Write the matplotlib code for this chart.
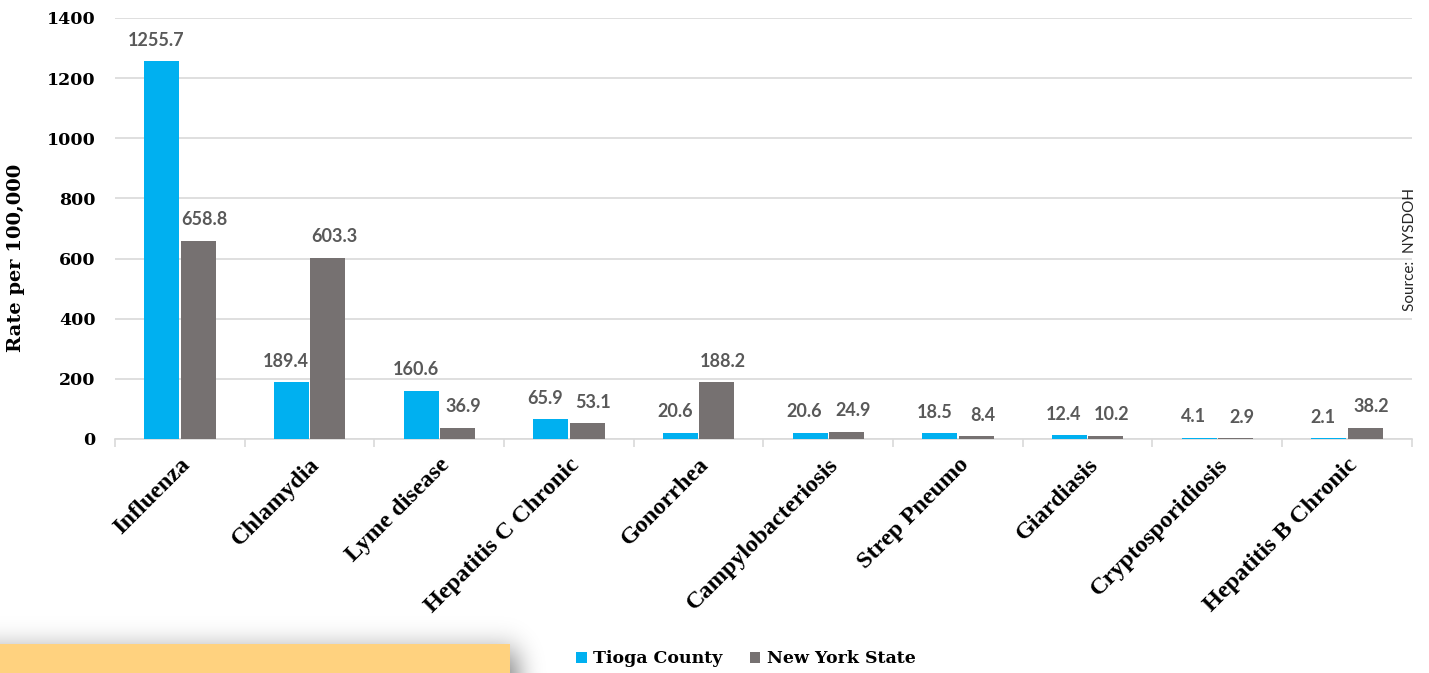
import math
import numpy as np
import matplotlib.pyplot as plt
from matplotlib.patches import Rectangle

diseases = ["Influenza", "Chlamydia", "Lyme disease", "Hepatitis C Chronic", "Gonorrhea",
            "Campylobacteriosis", "Strep Pneumo", "Giardiasis", "Cryptosporidiosis",
            "Hepatitis B Chronic"]
tioga = [1255.7, 189.4, 160.6, 65.9, 20.6, 20.6, 18.5, 12.4, 4.1, 2.1]
nys = [658.8, 603.3, 36.9, 53.1, 188.2, 24.9, 8.4, 10.2, 2.9, 38.2]

blue = "#00B0F0"
grey = "#767171"
label_col = "#595959"
serif = "DejaVu Serif"

fig = plt.figure(figsize=(14.29, 6.73), dpi=100)
ax = fig.add_axes([0.0805, 0.3477, 0.9075, 0.6256])

x = np.arange(len(diseases))
w = 0.27
b1 = ax.bar(x - 0.14, tioga, w, color=blue, zorder=3, label="Tioga County")
b2 = ax.bar(x + 0.14, nys, w, color=grey, zorder=3, label="New York State")

# labels pushed slightly outward, like excel does
for bars, vals, dx in [(b1, tioga, -4), (b2, nys, 4.5)]:
    for r, v in zip(bars, vals):
        ax.annotate(f"{v:.1f}", (r.get_x() + r.get_width() / 2, v), xytext=(dx, 9),
                    textcoords="offset points", ha="center", va="bottom",
                    fontsize=13, fontweight="bold", color=label_col, family="Lato")

ax.set_xlim(-0.5, len(diseases) - 0.5)
ax.set_ylim(0, 1400)
ax.set_yticks(range(0, 1401, 200))
ax.yaxis.grid(True, color="#D9D9D9", linewidth=1.2, zorder=0)
ax.tick_params(axis="y", length=0, pad=14)
for lab in ax.get_yticklabels():
    lab.set_fontfamily(serif)
    lab.set_fontweight("bold")
    lab.set_fontsize(12.5)

# category names: Liberation Serif keeps the dots on the i's readable when rotated
ax.set_xticks(x)
ax.set_xticklabels(diseases, rotation=45, ha="right", rotation_mode="anchor",
                   fontfamily="Liberation Serif", fontweight="bold", fontsize=17.5)
ax.tick_params(axis="x", which="major", length=0, pad=11)
ax.set_xticks(np.arange(-0.5, len(diseases)), minor=True)
ax.tick_params(axis="x", which="minor", length=6, color="#D9D9D9", width=1.2)

for s in ["top", "right", "left"]:
    ax.spines[s].set_visible(False)
ax.spines["bottom"].set_color("#D9D9D9")
ax.spines["bottom"].set_linewidth(1.2)

ax.set_ylabel("Rate per 100,000", fontfamily=serif, fontweight="bold", fontsize=14)
ax.yaxis.set_label_coords(-0.0694, 0.43)

fig.text(0.987, 0.63, "Source:  NYSDOH", rotation=90, ha="center", va="center",
         fontsize=11, family="Lato", color="#262626")

fig.legend(handles=[b1, b2], loc="center", bbox_to_anchor=(0.522, 0.021),
           ncol=2, frameon=False, handlelength=0.6, handleheight=0.6,
           handletextpad=0.35, columnspacing=1.6,
           prop={"family": serif, "weight": "bold", "size": 12.5})

# soft drop shadow behind the yellow banner (bottom left)
W, H = 570, 100
xs = np.arange(W) + 0.5
ys = 673 - H + np.arange(H) + 0.5
erf = np.vectorize(math.erf)
sx = 1 - 0.5 * (1 + erf((xs - 518) / (12 * math.sqrt(2))))
sy = 0.5 * (1 + erf((ys - 652) / (15 * math.sqrt(2))))
alpha = 0.5 * np.outer(sy, sx)
img = np.zeros((H, W, 4))
img[..., 3] = alpha
sax = fig.add_axes([0, 0, W / 1429, H / 673], zorder=-1)
sax.imshow(img, aspect="auto", extent=(0, W, 673, 673 - H), interpolation="bilinear")
sax.axis("off")
fig.patches.append(Rectangle((0, 0), 510 / 1429, 29 / 673, transform=fig.transFigure,
                             color="#FFD27F", lw=0, zorder=1))

fig.savefig("out.png", dpi=100, facecolor="white")
